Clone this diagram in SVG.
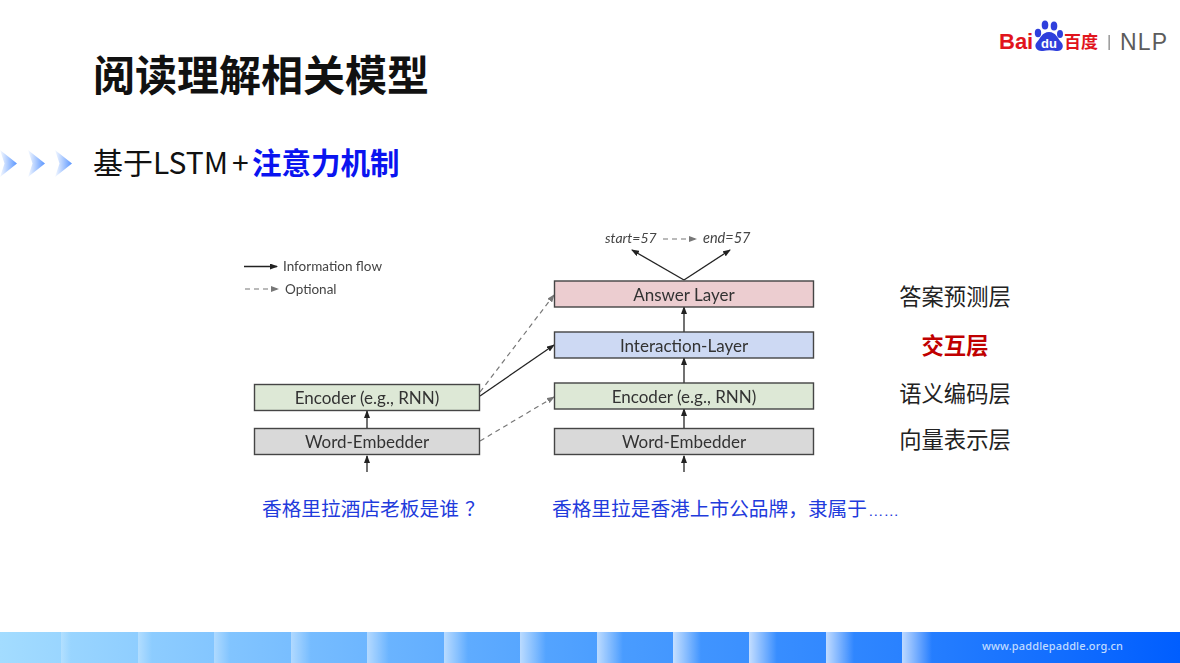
<svg xmlns="http://www.w3.org/2000/svg" width="1180" height="663" viewBox="0 0 1180 663">
<style>
.cjk{font-family:"Noto Sans CJK SC","Noto Sans",sans-serif}
.lbl{font-family:"Noto Sans CJK SC",sans-serif;font-size:22.3px;fill:#222;text-anchor:middle}
.q{font-family:"Noto Sans CJK SC",sans-serif;font-size:19.7px;fill:#1f3bdc}
.box{stroke:#444;stroke-width:1.4}
.t{font-family:Lato,"Open Sans",sans-serif;font-size:17px;fill:#333;text-anchor:middle}
.leg{font-family:Lato,"Open Sans",sans-serif;font-size:13.5px;fill:#444}
.sol{stroke:#222;stroke-width:1.3;fill:none;marker-end:url(#a)}
.das{stroke:#777;stroke-width:1.2;fill:none;stroke-dasharray:5 4;marker-end:url(#b)}
</style>
<defs>
<marker id="a" markerWidth="8" markerHeight="6" refX="7" refY="3" orient="auto" markerUnits="userSpaceOnUse"><path d="M0 0L8 3L0 6z" fill="#222"/></marker>
<marker id="b" markerWidth="8" markerHeight="6" refX="7" refY="3" orient="auto" markerUnits="userSpaceOnUse"><path d="M0 0L8 3L0 6z" fill="#777"/></marker>
<linearGradient id="chev"><stop offset="0" stop-color="#5a96ff" stop-opacity=".05"/><stop offset="1" stop-color="#5a96ff"/></linearGradient>
<linearGradient id="bar"><stop offset="0" stop-color="#a3dcff"/><stop offset=".5" stop-color="#4d9fff"/><stop offset=".76" stop-color="#2a82ff"/><stop offset="1" stop-color="#005eff"/></linearGradient>
<linearGradient id="gl"><stop offset="0" stop-color="#fff" stop-opacity=".7"/><stop offset="1" stop-color="#fff" stop-opacity="0"/></linearGradient>
<filter id="soft" x="-5%" y="-5%" width="110%" height="110%"><feGaussianBlur stdDeviation=".35"/></filter>
<g id="cv"><path d="M0 0L17 13.500L0 27L4.500 13.500z" fill="url(#chev)"/></g>
</defs>
<rect width="1180" height="663" fill="#fff"/>

<text class="cjk" x="93" y="91" font-size="42" font-weight="700" fill="#111">阅读理解相关模型</text>
<g id="bullets"><use href="#cv" x="0" y="150"/><use href="#cv" x="28" y="150"/><use href="#cv" x="55" y="150"/></g>
<text class="cjk" x="93" y="174" font-size="30" fill="#111">基于LSTM<tspan x="232">+</tspan><tspan x="252" font-size="29.500" fill="#0a14f0" font-weight="700">注意力机制</tspan></text>

<g id="logo">
<text x="999" y="49" font-family="Liberation Sans,sans-serif" font-size="22" font-weight="700" fill="#e1141c">Bai</text>
<g fill="#2f3fdc"><ellipse cx="1038" cy="33" rx="3.2" ry="4.2"/><ellipse cx="1045" cy="25" rx="3.3" ry="4.6"/><ellipse cx="1054" cy="26" rx="3.3" ry="4.6"/><ellipse cx="1060" cy="34" rx="3" ry="4"/><path d="M1049 32C1042 32 1040 39 1037 42C1033 46 1037 52 1043 51C1047 50 1052 50 1056 51C1062 52 1065 46 1061 42C1058 39 1056 32 1049 32z"/></g>
<text x="1049" y="48" font-family="Liberation Sans,sans-serif" font-size="13" font-weight="700" fill="#fff" text-anchor="middle">du</text>
<text class="cjk" x="1064" y="48" font-size="17" font-weight="700" fill="#e1141c">百度</text>
<rect x="1108.500" y="35" width="1.300" height="15" fill="#888"/>
<text x="1120" y="49.500" font-family="Liberation Sans,sans-serif" font-size="23" fill="#5c5c5c" textLength="47">NLP</text>
</g>

<g id="diagram" filter="url(#soft)">
<g id="connectors">
<path class="sol" d="M244 266.500H277"/>
<path class="das" d="M245 289H278"/>
<path class="das" d="M663 239H696"/>
<path class="sol" d="M684 280L632 250"/>
<path class="sol" d="M684 280L730 250"/>
<path class="sol" d="M684 332V307"/>
<path class="sol" d="M684 383V358"/>
<path class="sol" d="M684 428V409"/>
<path class="sol" d="M684 472V456"/>
<path class="sol" d="M367 428V411"/>
<path class="sol" d="M367 472V456"/>
<path class="das" d="M480 392L554 295"/>
<path class="sol" d="M480 396L554 345"/>
<path class="das" d="M480 441L554 397"/>
</g>
<g id="legend-flow"><text class="leg" x="283" y="271">Information flow</text></g>
<g id="legend-optional"><text class="leg" x="285" y="294">Optional</text></g>
<g id="out-start"><text class="leg" x="605" y="243" font-style="italic" style="font-size:14px">start=57</text></g>
<g id="out-end"><text class="leg" x="703" y="243" font-style="italic" style="font-size:14.500px">end=57</text></g>
<g id="q-encoder"><rect class="box" x="254.500" y="384.500" width="225" height="26" fill="#dde8d6"/><text class="t" x="367" y="403.500">Encoder (e.g., RNN)</text></g>
<g id="q-embedder"><rect class="box" x="254.500" y="428.500" width="225" height="26" fill="#d9d9d9"/><text class="t" x="367" y="447.500">Word-Embedder</text></g>
<g id="answer"><rect class="box" x="554.500" y="281" width="259" height="26" fill="#eccdd0"/><text class="t" x="684" y="300.500">Answer Layer</text></g>
<g id="interaction"><rect class="box" x="554.500" y="332" width="259" height="26" fill="#cdd9f3"/><text class="t" x="684" y="351.500">Interaction-Layer</text></g>
<g id="p-encoder"><rect class="box" x="554.500" y="383" width="259" height="26" fill="#dde8d6"/><text class="t" x="684" y="402.500">Encoder (e.g., RNN)</text></g>
<g id="p-embedder"><rect class="box" x="554.500" y="428.500" width="259" height="26" fill="#d9d9d9"/><text class="t" x="684" y="447.500">Word-Embedder</text></g>
</g>

<text class="lbl" x="955" y="304.500">答案预测层</text>
<text class="lbl" x="955" y="353.500" style="fill:#c00000;font-weight:700">交互层</text>
<text class="lbl" x="955" y="401.500">语义编码层</text>
<text class="lbl" x="955" y="448">向量表示层</text>
<text class="q" x="262" y="515.500">香格里拉酒店老板是谁<tspan x="465">？</tspan></text>
<text class="q" x="552" y="515.500">香格里拉是香港上市公品牌，隶属于<tspan font-family="Liberation Sans,sans-serif" font-size="15.500" x="868">……</tspan></text>

<g id="footer">
<rect y="632" width="1180" height="31" fill="url(#bar)"/>
<rect x="61" y="632" width="10" height="31" fill="url(#gl)" opacity=".35"/>
<rect x="138" y="632" width="14" height="31" fill="url(#gl)" opacity=".45"/>
<rect x="214" y="632" width="16" height="31" fill="url(#gl)" opacity=".5"/>
<rect x="291" y="632" width="20" height="31" fill="url(#gl)" opacity=".6"/>
<rect x="367" y="632" width="22" height="31" fill="url(#gl)" opacity=".7"/>
<rect x="444" y="632" width="24" height="31" fill="url(#gl)" opacity=".8"/>
<rect x="520" y="632" width="26" height="31" fill="url(#gl)" opacity=".85"/>
<rect x="597" y="632" width="26" height="31" fill="url(#gl)" opacity=".9"/>
<rect x="673" y="632" width="28" height="31" fill="url(#gl)"/>
<rect x="749" y="632" width="28" height="31" fill="url(#gl)"/>
<rect x="826" y="632" width="28" height="31" fill="url(#gl)"/>
<rect x="902" y="632" width="30" height="31" fill="url(#gl)"/>
<text x="982" y="650" font-family="Noto Sans,sans-serif" font-size="11" font-weight="500" fill="#c0dbff" textLength="141">www.paddlepaddle.org.cn</text>
</g>
</svg>
